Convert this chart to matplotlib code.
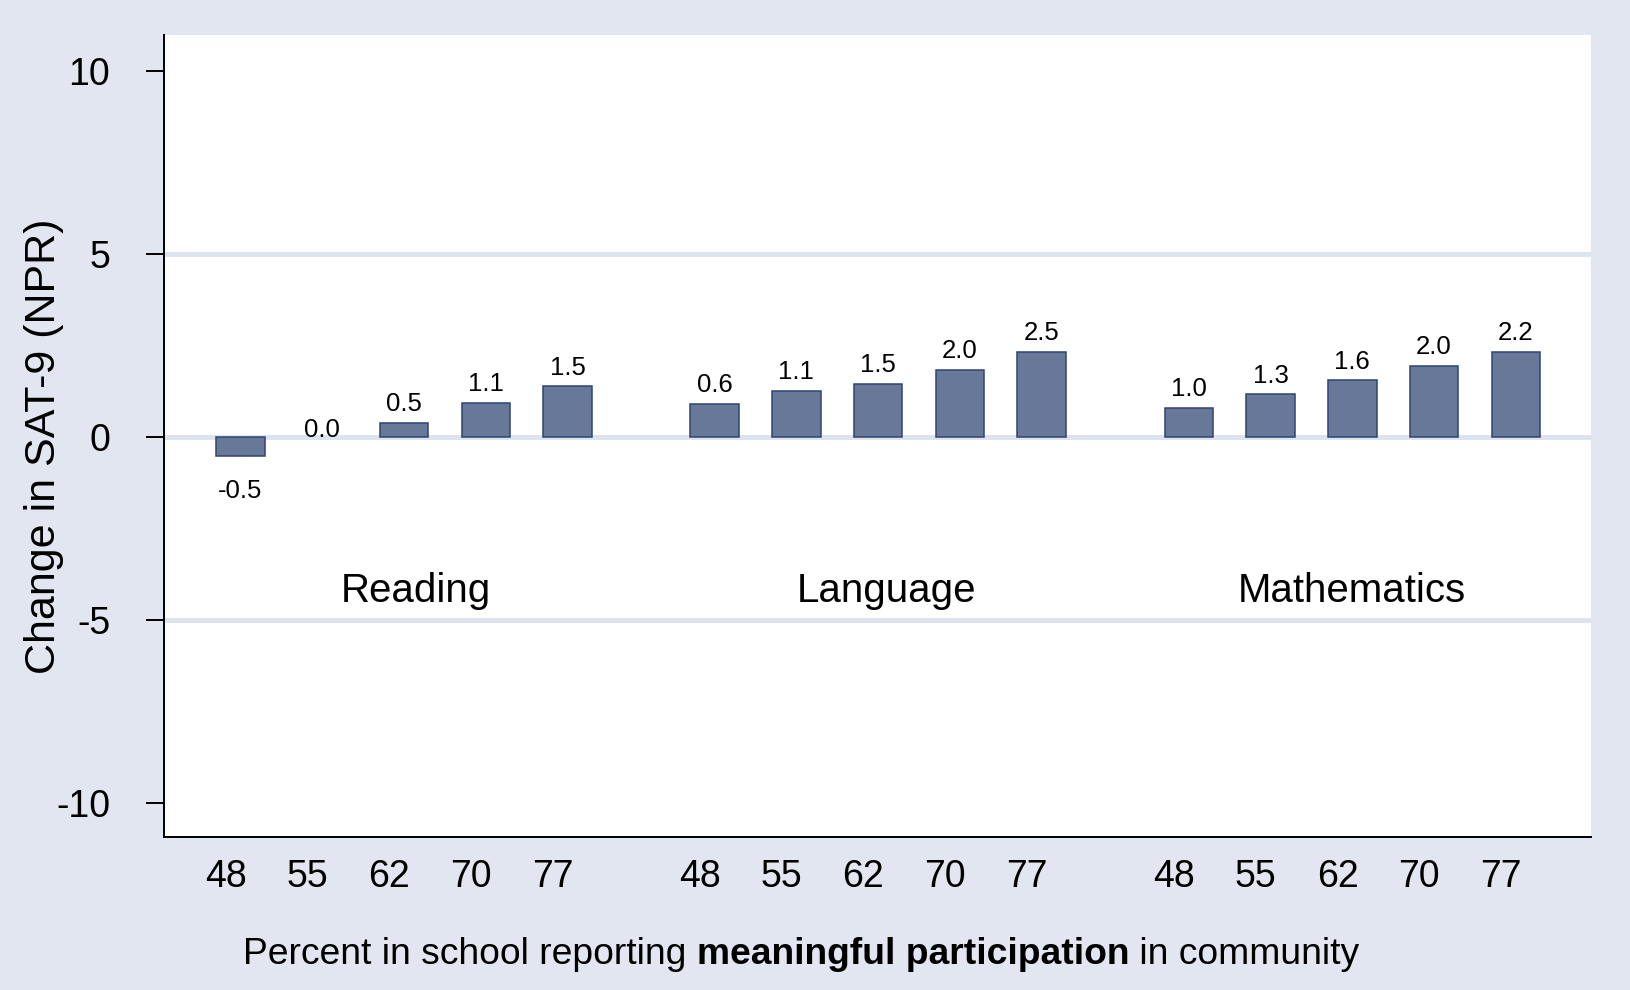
import matplotlib
matplotlib.use('Agg')
import matplotlib.pyplot as plt
import numpy as np

# values
subjects = ["Reading", "Language", "Mathematics"]
pct_ticks = ["48", "55", "62", "70", "77"]
reading = [-0.53, 0.0, 0.39, 0.92, 1.38]
language = [0.91, 1.25, 1.44, 1.84, 2.31]
mathematics = [0.80, 1.16, 1.54, 1.94, 2.33]
reading_lbl = ["-0.5", "0.0", "0.5", "1.1", "1.5"]
language_lbl = ["0.6", "1.1", "1.5", "2.0", "2.5"]
mathematics_lbl = ["1.0", "1.3", "1.6", "2.0", "2.2"]
yticks = [-10, -5, 0, 5, 10]

BG = "#e1e6f0"
GRID = "#dde3ee"
BAR = "#687898"
EDGE = "#2f4474"
SANS = ["Liberation Sans", "DejaVu Sans"]

plt.rcParams['font.family'] = SANS

W, H = 1631, 990
fig = plt.figure(figsize=(W / 100, H / 100), dpi=100, facecolor=BG)
ax = fig.add_axes([164 / W, 1 - 837 / H, (1591 - 164) / W, (837 - 35) / H])
ax.set_facecolor("white")

group_gap = 5.8
series = [reading, language, mathematics]
labels = [reading_lbl, language_lbl, mathematics_lbl]
name_shift = [0.15, 0.1, 0.0]

xt, xtl = [], []
for g, (vals, lbls) in enumerate(zip(series, labels)):
    xs = g * group_gap + np.arange(len(vals))
    lw = [0 if v == 0 else 1.1 for v in vals]
    ax.bar(xs, vals, width=0.593, color=BAR, edgecolor=EDGE, linewidth=lw, zorder=3)
    for x, v, s in zip(xs, vals, lbls):
        if v < 0:
            ax.annotate(s, (x, v), xytext=(0, -16), textcoords="offset points",
                        ha="center", va="top", fontsize=18.5)
        else:
            off = 8.5 if v > 0 else 0
            ax.annotate(s, (x, v), xytext=(0, off), textcoords="offset points",
                        ha="center", va="baseline", fontsize=18.5)
    ax.text(xs.mean() + name_shift[g], -4.5, subjects[g], ha="center", va="baseline",
            fontsize=29)
    xt.extend(xs - 0.18)
    xtl.extend(pct_ticks)

ax.set_xlim(-0.936, 16.52)
ax.set_ylim(-10.92, 10.97)

# gridlines, skipping the outer ticks like the original
for y in [-5, 0, 5]:
    ax.axhline(y, color=GRID, linewidth=3.5, zorder=1)

ax.set_yticks(yticks)
ax.set_yticklabels([str(t) for t in yticks], fontsize=27)
ax.tick_params(axis="y", length=12.7, width=1.4, pad=26)
ax.set_xticks(xt)
ax.set_xticklabels(xtl, fontsize=27)
ax.tick_params(axis="x", length=0, pad=16)

for s in ["top", "right"]:
    ax.spines[s].set_visible(False)
ax.spines["left"].set_linewidth(1.4)
ax.spines["bottom"].set_linewidth(1.4)

fig.text(44 / W, 1 - 446 / H, "Change in SAT-9 (NPR)", rotation=90,
         ha="center", va="center", fontsize=31)

# x title with bold middle part
parts = [("Percent in school reporting ", "normal"),
         ("meaningful participation", "bold"),
         (" in community", "normal")]
fig.canvas.draw()
r = fig.canvas.get_renderer()
texts = []
for s, w in parts:
    t = fig.text(0, 1 - 955 / H, s, fontsize=26.8, fontweight=w,
                 ha="left", va="center")
    texts.append(t)
widths = [t.get_window_extent(r).width for t in texts]
x0 = 801 - sum(widths) / 2
for t, w in zip(texts, widths):
    t.set_x(x0 / W)
    x0 += w

fig.savefig("out.png", dpi=100, facecolor=BG)
